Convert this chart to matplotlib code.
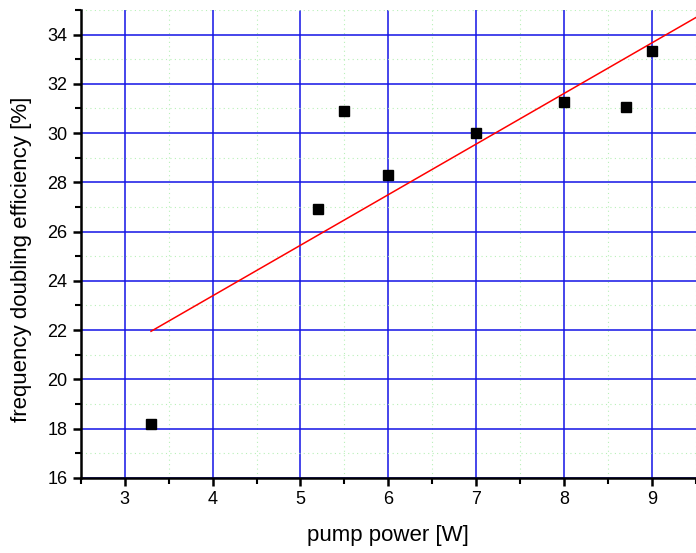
import matplotlib
matplotlib.use('Agg')
import matplotlib.pyplot as plt
from matplotlib.ticker import MultipleLocator

plt.rcParams['font.family'] = ['Liberation Sans', 'DejaVu Sans']

# measured points
power = [3.3, 5.2, 5.5, 6.0, 7.0, 8.0, 8.7, 9.0]
eff = [18.2, 26.9, 30.9, 28.3, 30.0, 31.25, 31.05, 33.35]

# linear fit, end points
fit_x = [3.3, 9.6]
fit_y = [21.95, 34.9]

fig = plt.figure(figsize=(6.96, 5.53), dpi=100)
ax = fig.add_axes([0.116, 0.136, 0.884, 0.846])

ax.plot(fit_x, fit_y, color='red', lw=1.1, zorder=3)
ax.plot(power, eff, 's', color='black', ms=7, zorder=4)

ax.set_xlim(2.5, 9.5)
ax.set_ylim(16, 35)
ax.xaxis.set_major_locator(MultipleLocator(1))
ax.xaxis.set_minor_locator(MultipleLocator(0.5))
ax.yaxis.set_major_locator(MultipleLocator(2))
ax.yaxis.set_minor_locator(MultipleLocator(1))

ax.grid(which='major', color='#1414e6', lw=1.1)
ax.grid(which='minor', color='#b8f0b8', lw=0.8, ls=(0, (1, 3)))
ax.set_axisbelow(True)

ax.spines['top'].set_visible(False)
ax.spines['right'].set_visible(False)
ax.spines['left'].set_linewidth(1.8)
ax.spines['bottom'].set_linewidth(1.8)
ax.tick_params(which='major', direction='out', length=6, width=1.8, labelsize=13)
ax.tick_params(which='minor', direction='out', length=4, width=1.5)

ax.set_xlabel('pump power [W]', fontsize=16, labelpad=12)
ax.set_ylabel('frequency doubling efficiency [%]', fontsize=16)
ax.yaxis.set_label_coords(-0.079, 0.466)

fig.savefig('out.png', dpi=100)
